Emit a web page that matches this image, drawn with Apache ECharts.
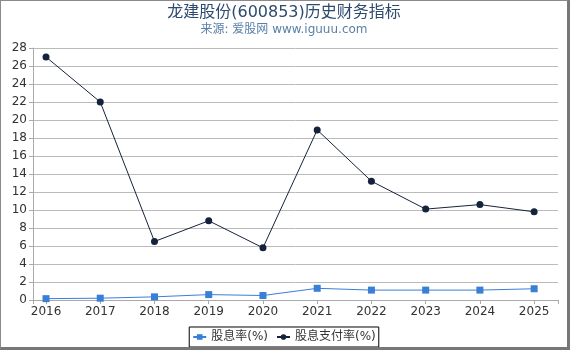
<!DOCTYPE html>
<html>
<head>
<meta charset="utf-8">
<script src="https://cdn.jsdelivr.net/npm/echarts@6/dist/echarts.min.js"></script>
<style>
    html, body { margin: 0; padding: 0; background: #fff; }
    #box {
        width: 570px; height: 350px; box-sizing: border-box;
        border: 1px solid #8a8a8a; border-right: 3px solid #777; border-bottom: 3px solid #777;
    }
    #main { width: 566px; height: 346px; }
</style>
</head>
<body>
<div id="box"><div id="main"></div></div>
<script>
var years = [2016, 2017, 2018, 2019, 2020, 2021, 2022, 2023, 2024, 2025];
var yieldRate = [0.15, 0.2, 0.35, 0.6, 0.5, 1.3, 1.1, 1.1, 1.1, 1.25];
var payoutRate = [27.0, 22.0, 6.5, 8.8, 5.8, 18.9, 13.2, 10.1, 10.6, 9.8];

var myChart = echarts.init(document.getElementById('main'));

function pairs(vals) {
    return years.map(function (y, i) { return [y, vals[i]]; });
}

var option = {
    animation: false,
    textStyle: { fontFamily: 'DejaVu Sans, Noto Sans CJK SC' },
    title: {
        text: '龙建股份(600853)历史财务指标',
        subtext: '来源: 爱股网 www.iguuu.com',
        left: 'center',
        top: 0,
        padding: [4, 5],
        itemGap: 3,
        textStyle: { fontSize: 16, fontWeight: 'normal', color: '#2d4a6f', fontFamily: 'DejaVu Sans, Noto Sans CJK SC' },
        subtextStyle: { fontSize: 12, color: '#5b80a8', fontFamily: 'DejaVu Sans, Noto Sans CJK SC' }
    },
    legend: {
        bottom: 0,
        left: 'center',
        borderColor: '#000',
        borderWidth: 1,
        borderRadius: 0,
        padding: [4, 3],
        itemGap: 8,
        itemWidth: 13,
        itemHeight: 7,
        textStyle: { fontSize: 12, color: '#333', fontFamily: 'DejaVu Sans, Noto Sans CJK SC' },
        data: ['股息率(%)', '股息支付率(%)']
    },
    grid: { left: 32, right: 9, top: 47, bottom: 47 },
    xAxis: {
        type: 'value',
        min: 2015.76,
        max: 2025.44,
        minInterval: 1,
        maxInterval: 1,
        splitLine: { show: false },
        axisLine: { show: true, lineStyle: { color: '#aaa' } },
        axisTick: { show: true, length: 4, lineStyle: { color: '#aaa' } },
        axisLabel: {
            fontSize: 12, color: '#333', margin: 6,
            formatter: function (v) { return Number.isInteger(v) ? String(v) : ''; }
        }
    },
    yAxis: {
        type: 'value',
        min: 0,
        max: 28,
        interval: 2,
        axisLine: { show: true, lineStyle: { color: '#aaa' } },
        axisTick: { show: true, length: 4, lineStyle: { color: '#aaa' } },
        axisLabel: { fontSize: 12, color: '#333', margin: 6 },
        splitLine: { lineStyle: { color: '#bbb' } }
    },
    series: [
        {
            name: '股息率(%)',
            type: 'line',
            data: pairs(yieldRate),
            symbol: 'rect',
            symbolSize: 7,
            itemStyle: { color: '#3a7fd6' },
            lineStyle: { width: 1, color: '#3a7fd6' }
        },
        {
            name: '股息支付率(%)',
            type: 'line',
            data: pairs(payoutRate),
            symbol: 'circle',
            symbolSize: 7,
            itemStyle: { color: '#14233b' },
            lineStyle: { width: 1, color: '#14233b' }
        }
    ]
};

myChart.setOption(option);
</script>
</body>
</html>
